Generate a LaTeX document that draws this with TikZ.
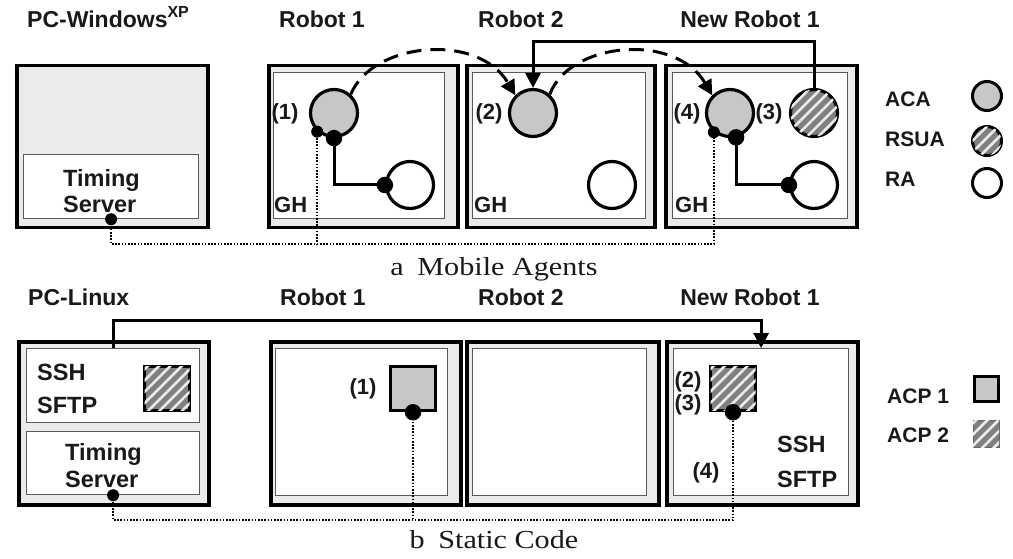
\documentclass[tikz,border=0pt]{standalone}
\usepackage{fontspec}
\setmainfont{Liberation Serif}
\setsansfont{Liberation Sans}
\usetikzlibrary{arrows.meta,patterns.meta}
\begin{document}
\begin{tikzpicture}[x=1pt,y=-1pt,
  outerbox/.style={draw=black,line width=3.5pt,fill=black!8,inner sep=0pt,anchor=north west},
  innerbox/.style={draw=black!65,line width=1.2pt,fill=white,inner sep=0pt,anchor=north west},
  hatch/.style={fill=black!50,postaction={pattern={Lines[angle=45,distance=8pt,line width=2.6pt]},pattern color=black!8}},
  agent/.style={circle,draw=black,line width=3.2pt,inner sep=0pt,minimum size=47pt},
  aca/.style={agent,fill=black!22},
  rsua/.style={agent,hatch},
  ra/.style={agent,fill=white},
  lagent/.style={circle,draw=black,line width=3pt,inner sep=0pt,minimum size=29pt},
  acpbox/.style={rectangle,draw=black,line width=3.5pt,inner sep=0pt,minimum width=45pt,minimum height=44pt},
  bigdot/.style={circle,fill=black,inner sep=0pt,minimum size=16.5pt},
  smalldot/.style={circle,fill=black,inner sep=0pt,minimum size=12pt},
  conn/.style={draw=black,line width=3pt},
  arr/.style={-{Triangle[length=15pt,width=15pt]}},
  dashconn/.style={conn,dash pattern=on 15pt off 9pt},
  dotline/.style={draw=black,line width=1.8pt,dash pattern=on 1.6pt off 1.6pt},
  hdr/.style={font=\sffamily\bfseries\fontsize{23}{23}\selectfont,inner sep=0pt,text=black!90},
  lab/.style={font=\sffamily\bfseries\fontsize{22}{22}\selectfont,inner sep=0pt,text=black!90},
  biglab/.style={font=\sffamily\bfseries\fontsize{23.5}{23.5}\selectfont,inner sep=0pt,text=black!90,anchor=base west},
  leg/.style={font=\sffamily\bfseries\fontsize{21}{21}\selectfont,inner sep=0pt,text=black!90,anchor=base west},
  captxt/.style={font=\rmfamily\fontsize{26}{26}\selectfont,inner sep=0pt,anchor=base,text=black!90}]
\useasboundingbox (0,0) rectangle (1013,559);
\fill[white] (0,0) rectangle (1013,559);
\coordinate (topline) at (0,42);
\coordinate (dotrowA) at (0,244);
\coordinate (botline) at (0,320);
\coordinate (dotrowB) at (0,520);

% ---------- panel a: headers
\node[hdr,anchor=base west] (hpcw) at (27,28) {PC-Windows\raisebox{0.45em}{\fontsize{16}{16}\selectfont XP}};
\node[hdr,anchor=base] (hr1a) at (322,28) {Robot 1};
\node[hdr,anchor=base] (hr2a) at (521,28) {Robot 2};
\node[hdr,anchor=base] (hnra) at (750,28) {New Robot 1};

% ---------- panel a: boxes
\node[outerbox,minimum width=191pt,minimum height=162pt] (pcw) at (15,64) {};
\node[outerbox,minimum width=189pt,minimum height=162pt] (r1a) at (267,64) {};
\node[outerbox,minimum width=188pt,minimum height=162pt] (r2a) at (465,64) {};
\node[outerbox,minimum width=191pt,minimum height=162pt] (nra) at (664,64) {};
\node[innerbox,minimum width=175pt,minimum height=64pt] (ts1) at (23,154) {};
\node[innerbox,minimum width=171pt,minimum height=146pt] (r1ai) at (273,72) {};
\node[innerbox,minimum width=173pt,minimum height=146pt] (r2ai) at (472,72) {};
\node[innerbox,minimum width=175pt,minimum height=146pt] (nrai) at (672,72) {};

\node[biglab] (tsA1) at (63,187) {Timing};
\node[biglab] (tsA2) at (63,213) {Server};
\node[lab,anchor=base west] (gh1) at (274,212) {GH};
\node[lab,anchor=base west] (gh2) at (474,212) {GH};
\node[lab,anchor=base west] (gh3) at (675,212) {GH};

% ---------- panel a: agents
\node[aca] (a1) at (334,113) {};
\node[aca] (a2) at (533,113) {};
\node[aca] (a3) at (730,113) {};
\node[rsua] (rs) at (814,113) {};
\node[ra] (ra1) at (410,185) {};
\node[ra] (ra2) at (612,185) {};
\node[ra] (ra3) at (814,185) {};

\node[lab] (l1) at (285,114) {(1)};
\node[lab] (l2) at (489,114) {(2)};
\node[lab] (l4) at (687,114) {(4)};
\node[lab] (l3) at (769,114) {(3)};

% connectors panel a
\draw[dotline] (ts1.south) -- (ts1.south |- dotrowA) -| (a3.230);
\draw[dotline] (a1.228) -- (a1.228 |- dotrowA);
\draw[conn] (a1.south) |- (ra1.west);
\draw[conn] (a3.-76) |- (ra3.west);
\draw[dashconn,arr] (a1.48) .. controls (372,42) and (478,32) .. (a2.135);
\draw[dashconn,arr] (a2.48) .. controls (569,42) and (675,32) .. (a3.135);
\draw[conn,arr] (rs.north) -- (rs.north |- topline) -| (a2.north);

\node[bigdot] (da1) at (a1.south) {};
\node[smalldot] (sa1) at (a1.228) {};
\node[bigdot] (dr1) at (ra1.west) {};
\node[bigdot] (da3) at (a3.-76) {};
\node[smalldot] (sa3) at (a3.230) {};
\node[bigdot] (dr3) at (ra3.west) {};
\node[smalldot] (dts1) at (ts1.south) {};

% legend a
\node[leg] (lgA) at (885,107) {ACA};
\node[leg] (lgR) at (885,147) {RSUA};
\node[leg] (lgRA) at (885,187) {RA};
\node[lagent,fill=black!22] (lcA) at (987,96) {};
\node[lagent,hatch] (lcR) at (987,141) {};
\node[lagent,fill=white] (lcRA) at (987,183) {};

\node[captxt] (capa) at (494,276) {\scalebox{1.16}[1]{a\hspace{0.45em}Mobile Agents}};

% ---------- panel b: headers
\node[hdr,anchor=base west] (hpcl) at (28,305) {PC-Linux};
\node[hdr,anchor=base] (hr1b) at (323,305) {Robot 1};
\node[hdr,anchor=base] (hr2b) at (521,305) {Robot 2};
\node[hdr,anchor=base] (hnrb) at (750,305) {New Robot 1};

% ---------- panel b: boxes
\node[outerbox,minimum width=190pt,minimum height=163pt] (pcl) at (17,340) {};
\node[outerbox,minimum width=190pt,minimum height=163pt] (r1b) at (269,340) {};
\node[outerbox,minimum width=192pt,minimum height=163pt] (r2b) at (465,340) {};
\node[outerbox,minimum width=191pt,minimum height=163pt] (nrb) at (665,340) {};
\node[innerbox,minimum width=173pt,minimum height=74pt] (ssh) at (26,348) {};
\node[innerbox,minimum width=173pt,minimum height=63pt] (ts2) at (26,431) {};
\node[innerbox,minimum width=172pt,minimum height=147pt] (r1bi) at (275,348) {};
\node[innerbox,minimum width=174pt,minimum height=147pt] (r2bi) at (472,348) {};
\node[innerbox,minimum width=175pt,minimum height=147pt] (nrbi) at (673,348) {};

\node[biglab] (sshA) at (37,380) {SSH};
\node[biglab] (sftpA) at (37,413) {SFTP};
\node[biglab] (tsB1) at (65,460) {Timing};
\node[biglab] (tsB2) at (65,487) {Server};
\node[biglab] (sshB) at (777,452) {SSH};
\node[biglab] (sftpB) at (777,487) {SFTP};

\node[acpbox,hatch] (c0) at (167,388.5) {};
\node[acpbox,fill=black!22] (c1) at (413,388.5) {};
\node[acpbox,hatch] (c2) at (733,388.5) {};

\node[lab] (m1) at (363,389) {(1)};
\node[lab] (m2) at (688,382) {(2)};
\node[lab] (m3) at (688,405) {(3)};
\node[lab] (m4) at (706,473) {(4)};

\draw[dotline] (ts2.south) -- (ts2.south |- dotrowB) -| (c2.south);
\draw[dotline] (c1.south) -- (c1.south |- dotrowB);
\draw[conn,arr] (ssh.north) -- (ssh.north |- botline) -| (nrbi.north);

\node[bigdot] (dc1) at (c1.south) {};
\node[bigdot] (dc2) at (c2.south) {};
\node[smalldot] (dts2) at (ts2.south) {};

% legend b
\node[leg] (lgP1) at (887,403) {ACP 1};
\node[leg] (lgP2) at (887,442) {ACP 2};
\node[rectangle,draw=black,line width=3pt,fill=black!22,minimum width=24pt,minimum height=25pt,inner sep=0pt] (lsq1) at (986,389) {};
\node[rectangle,draw=black!60,line width=1pt,hatch,minimum width=26pt,minimum height=27pt,inner sep=0pt] (lsq2) at (986,434) {};

\node[captxt] (capb) at (494,548) {\scalebox{1.16}[1]{b\hspace{0.45em}Static Code}};
\end{tikzpicture}
\end{document}
